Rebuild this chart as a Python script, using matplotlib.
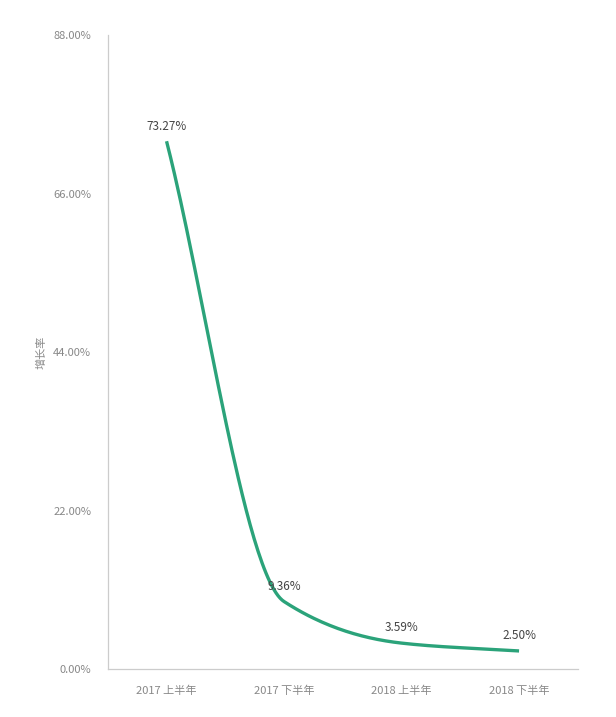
import numpy as np
import matplotlib
matplotlib.use("Agg")
import matplotlib.pyplot as plt
from matplotlib.ticker import FuncFormatter

plt.rcParams['font.family'] = ['Noto Sans CJK SC', 'DejaVu Sans']

categories = ["2017 上半年", "2017 下半年", "2018 上半年", "2018 下半年"]
growth = [73.27, 9.36, 3.59, 2.50]
yticks = [0, 22, 44, 66, 88]

line_color = '#2ba37a'

def monotone_curve(x, y, n=60):
    # monotone cubic hermite, only for drawing a smooth line
    x = np.asarray(x, float)
    y = np.asarray(y, float)
    h = np.diff(x)
    d = np.diff(y) / h
    m = np.zeros_like(y)
    m[0], m[-1] = d[0], d[-1]
    for k in range(1, len(y) - 1):
        if d[k - 1] * d[k] > 0:
            m[k] = 2 / (1 / d[k - 1] + 1 / d[k])
    xs, ys = [], []
    for k in range(len(x) - 1):
        t = np.linspace(0, 1, n)
        h00 = 2*t**3 - 3*t**2 + 1
        h10 = t**3 - 2*t**2 + t
        h01 = -2*t**3 + 3*t**2
        h11 = t**3 - t**2
        xs.append(x[k] + t * h[k])
        ys.append(h00*y[k] + h10*h[k]*m[k] + h01*y[k+1] + h11*h[k]*m[k+1])
    return np.concatenate(xs), np.concatenate(ys)

fig = plt.figure(figsize=(6.16, 7.17), dpi=100)
ax = fig.add_axes([0.175, 0.067, 0.763, 0.884])

xpos = np.arange(len(categories))
cx, cy = monotone_curve(xpos, growth)
ax.plot(cx, cy, color=line_color, linewidth=2.4, solid_capstyle='butt')

for x, v in zip(xpos, growth):
    ax.text(x, v + 1.2, f"{v:.2f}%", ha='center', va='bottom', fontsize=8.5, color='#444444')

ax.set_xlim(-0.5, 3.5)
ax.set_ylim(0, 88)
ax.set_xticks(xpos)
ax.set_xticklabels(categories)
ax.set_yticks(yticks)
ax.yaxis.set_major_formatter(FuncFormatter(lambda v, p: f"{v:.2f}%"))
ax.tick_params(axis='both', length=0, labelsize=8, labelcolor='#888888')
ax.tick_params(axis='x', pad=12)
ax.tick_params(axis='y', pad=12)

for s in ['top', 'right']:
    ax.spines[s].set_visible(False)
for s in ['left', 'bottom']:
    ax.spines[s].set_color('#cccccc')
    ax.spines[s].set_linewidth(0.9)

ax.set_ylabel("增长率", fontsize=8, color='#888888', labelpad=5)

fig.savefig("out.png", dpi=100, facecolor='white')
